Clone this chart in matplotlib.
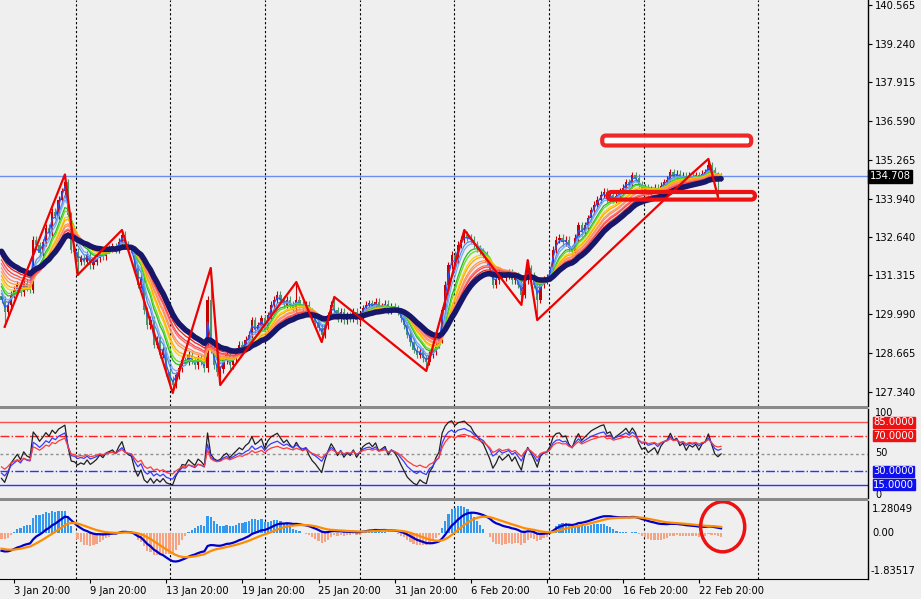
import numpy as np
import matplotlib
matplotlib.use("Agg")  # headless backend
import matplotlib.pyplot as plt
from matplotlib.patches import FancyBboxPatch, Ellipse, Rectangle

# USDJPY H4 closes (bar 0 = 3 Jan 04:00)
closes = [
    130.48, 130.07, 130.31, 130.65, 130.82, 130.99, 130.75, 131.06, 130.89, 130.82,
    132.53, 132.35, 132.10, 132.45, 132.95, 132.80, 133.49, 133.35, 133.90, 134.20,
    134.51, 133.38, 132.19, 132.12, 131.78, 131.91, 131.78, 132.02, 131.67, 131.78,
    131.91, 132.12, 131.98, 132.19, 132.25, 132.32, 132.19, 132.46, 132.70, 132.36,
    132.25, 132.19, 131.57, 130.99, 131.20, 130.13, 129.62, 129.80, 128.94, 129.11,
    128.60, 128.75, 128.01, 127.74, 127.57, 127.91, 128.15, 128.42, 128.36, 128.60,
    128.42, 128.25, 128.49, 128.36, 128.15, 130.48, 128.77, 128.25, 128.01, 128.10,
    128.42, 128.60, 128.25, 128.49, 128.70, 128.94, 128.83, 129.11, 129.28, 129.79,
    129.45, 129.62, 129.86, 129.45, 129.96, 130.31, 130.48, 130.65, 130.48, 130.31,
    130.48, 130.31, 130.20, 130.48, 130.31, 130.20, 130.31, 130.07, 129.86, 129.72,
    129.52, 129.28, 129.62, 129.96, 130.31, 130.13, 129.86, 130.07, 129.79, 129.96,
    129.86, 130.07, 129.79, 129.96, 130.20, 130.31, 130.37, 130.27, 130.41, 130.20,
    130.27, 130.34, 130.13, 130.27, 130.20, 130.07, 129.86, 129.62, 129.28, 129.04,
    128.77, 128.60, 128.70, 128.49, 128.36, 128.60, 128.70, 128.94, 129.11, 130.13,
    130.99, 131.67, 132.02, 131.84, 132.36, 132.53, 132.70, 132.60, 132.53, 132.36,
    132.25, 132.12, 132.02, 131.78, 131.50, 130.99, 131.16, 131.43, 131.23, 131.33,
    131.43, 131.16, 131.30, 130.99, 130.65, 131.16, 131.57, 131.33, 130.99, 130.48,
    130.99, 131.16, 131.23, 131.50, 132.19, 132.53, 132.60, 132.46, 132.53, 132.25,
    132.12, 132.60, 133.04, 132.80, 133.04, 133.28, 133.55, 133.73, 133.90, 134.07,
    134.17, 133.96, 134.07, 133.90, 134.03, 134.17, 134.31, 134.51, 134.41, 134.75,
    134.65, 134.41, 134.24, 134.31, 134.17, 134.24, 134.31, 134.17, 134.38, 134.51,
    134.58, 134.85, 134.72, 134.79, 134.65, 134.72, 134.58, 134.72, 134.68, 134.75,
    134.65, 134.79, 134.85, 135.09, 134.92, 134.72, 134.65, 134.708,
]
first_open = 130.60
last_price = 134.708

# zigzag pivots (bar index, price)
zz_bars = [1, 20, 24, 38, 54, 66, 69, 93, 101, 105, 134, 146, 164, 166, 169, 217, 223, 226]
zz_prices = [129.56, 134.77, 131.33, 132.87, 127.30, 131.57, 127.57, 131.09, 129.04, 130.58,
             128.05, 132.87, 130.31, 131.84, 129.79, 134.72, 135.30, 134.00]

# moving average ribbon: periods and values at the left edge
ribbon_periods = [2, 4, 5, 7, 8, 10, 11, 13, 14, 16, 17, 19]
ribbon_seeds = [130.75, 130.85, 130.96, 131.09, 131.19, 131.33, 131.47, 131.60, 131.74, 131.88, 132.02, 132.15]
ribbon_colors = ['#2255ff', '#4b8bf5', '#7aaaf0', '#22bb22', '#66dd22', '#ffd000',
                 '#ffaa00', '#ff9a3c', '#ff8a70', '#ff6a6a', '#ff4444', '#ee2020']
slow_period, slow_seed = 22, 132.30

# MACD(12, 26, 9): EMA values at the left edge
macd_fast_seed, macd_slow_seed, signal_seed = 131.20, 131.90, -0.60

# RSI lines and their values at the left edge
rsi_periods = [8, 14, 21]
rsi_seeds = [22, 28, 35]
rsi_colors = ['#202020', '#3a3aff', '#ff3a3a']

price_ticks = [140.565, 139.240, 137.915, 136.590, 135.265, 133.940, 132.640, 131.315, 129.990, 128.665, 127.340]
time_ticks = [4, 28, 52, 76, 100, 124, 148, 172, 196, 220]
time_labels = ['3 Jan 20:00', '9 Jan 20:00', '13 Jan 20:00', '19 Jan 20:00', '25 Jan 20:00',
               '31 Jan 20:00', '6 Feb 20:00', '10 Feb 20:00', '16 Feb 20:00', '22 Feb 20:00']
grid_bars = [23.5, 53.3, 83.2, 113.1, 142.8, 172.8, 202.7, 238.5]


def ema(values, n, seed):
    a = 2.0 / (n + 1)
    out, e = [], seed
    for v in values:
        e = e + a * (v - e)
        out.append(e)
    return np.array(out)


def rsi(values, n, seed):
    d = np.diff(values, prepend=values[0])
    m = np.mean(np.abs(d))
    g, l = m * seed / 100, m * (1 - seed / 100)
    out = []
    for x in d:
        g = (g * (n - 1) + max(x, 0)) / n
        l = (l * (n - 1) + max(-x, 0)) / n
        out.append(100 * g / (g + l))
    return np.array(out)


c = np.array(closes)
idx = np.arange(len(c))
o = np.r_[first_open, c[:-1]]
body_lo = np.minimum(o, c)
body_hi = np.maximum(o, c)
highs = body_hi + 0.12
lows = body_lo - 0.12
for b, p in zip(zz_bars, zz_prices):
    highs[b] = max(highs[b], p)
    lows[b] = min(lows[b], p)
cols = np.where(c >= o, '#c80000', '#4d9466')

W, H = 921, 599
BG = '#efefef'
fig = plt.figure(figsize=(W / 100, H / 100), dpi=100, facecolor=BG)
right = 868 / W
ax = fig.add_axes([0, 1 - 406 / H, right, 406 / H], facecolor=BG)
ax_rsi = fig.add_axes([0, 1 - 498 / H, right, 89 / H], facecolor=BG)
ax_macd = fig.add_axes([0, 1 - 579 / H, right, 78 / H], facecolor=BG)

xlim = (-1.5 / 3.17, (868 - 1.5) / 3.17)
for a in (ax, ax_rsi, ax_macd):
    a.set_xlim(*xlim)
    for s in ('top', 'bottom', 'left'):
        a.spines[s].set_visible(False)
    a.spines['right'].set_color('black')
    a.spines['right'].set_linewidth(1)
    for g in grid_bars:
        a.axvline(g, color='black', lw=0.8, ls=(0, (2, 2)), zorder=1)
    a.set_xticks([])
    a.set_yticks([])

# ---- main price panel
ax.set_ylim(126.851, 140.736)
ax.vlines(idx, lows, highs, colors=cols, lw=0.8, zorder=2)
ax.bar(idx, np.maximum(body_hi - body_lo, 0.03), bottom=body_lo, width=0.7, color=cols, zorder=2)
for n, s, col in zip(ribbon_periods, ribbon_seeds, ribbon_colors):
    ax.plot(idx, ema(c, n, s), color=col, lw=0.9, zorder=3)
ax.plot(idx, ema(c, slow_period, slow_seed), color='#16166a', lw=4, zorder=4, solid_capstyle='round')
ax.plot(zz_bars, zz_prices, color='#ee0000', lw=1.6, zorder=5)
ax.axhline(last_price, color='#6b8ff0', lw=1, zorder=1)

ax.add_patch(FancyBboxPatch((189.5, 135.76), 47, 0.34, boxstyle='round,pad=0,rounding_size=1.2',
                            fc='white', ec='#ee1111', lw=3, alpha=0.9, zorder=6, mutation_aspect=0.12))
ax.add_patch(FancyBboxPatch((191.2, 133.91), 46.5, 0.26, boxstyle='round,pad=0,rounding_size=1.2',
                            fc='none', ec='#ee1111', lw=3, zorder=6, mutation_aspect=0.12))

ax.yaxis.tick_right()
ax.set_yticks(price_ticks)
ax.set_yticklabels([f'{t:.3f}' for t in price_ticks])
ax.tick_params(axis='y', direction='out', length=3, pad=2, labelsize=7.2, colors='black')
ax.text(1.002, last_price, f'{last_price:.3f}', transform=ax.get_yaxis_transform(), va='center', ha='left',
        fontsize=7.2, color='white', bbox=dict(boxstyle='square,pad=0.15', fc='black', ec='black'))

# ---- RSI panel
ax_rsi.set_ylim(0, 100)
for n, s, col in zip(rsi_periods, rsi_seeds, rsi_colors):
    ax_rsi.plot(idx, rsi(c, n, s), color=col, lw=0.9, zorder=3)
ax_rsi.axhline(85, color='#ff5050', lw=1, zorder=2)
ax_rsi.axhline(70, color='#ff2020', lw=1, ls='-.', zorder=2)
ax_rsi.axhline(50, color='#909090', lw=1, ls=(0, (2, 2)), zorder=2)
ax_rsi.axhline(30, color='#3030ff', lw=1, ls='-.', zorder=2)
ax_rsi.axhline(15, color='#3030ff', lw=1, zorder=2)
tr = ax_rsi.get_yaxis_transform()
ax_rsi.text(1.008, 101, '100', transform=tr, va='top', ha='left', fontsize=7)
ax_rsi.text(1.008, 50, '50', transform=tr, va='center', ha='left', fontsize=7)
ax_rsi.text(1.008, -2, '0', transform=tr, va='bottom', ha='left', fontsize=7, clip_on=False)
for lvl, fc in [(85, '#ee1111'), (70, '#ee1111'), (30, '#1010ee'), (15, '#1010ee')]:
    ax_rsi.text(1.006, lvl, f'{lvl:.4f}', transform=tr, va='center', ha='left', fontsize=7.2, color='white',
                bbox=dict(boxstyle='square,pad=0.05', fc=fc, ec=fc))

# ---- MACD panel
macd_lo, macd_hi = -1.83517, 1.28049
ax_macd.set_ylim(macd_lo, macd_hi)
macd = ema(c, 12, macd_fast_seed) - ema(c, 26, macd_slow_seed)
signal = ema(macd, 9, signal_seed)
hist = 2.6 * (macd - signal)
ax_macd.bar(idx, hist, width=0.7, color=np.where(hist >= 0, '#3399ee', '#f5a383'), zorder=2)
ax_macd.plot(idx, macd, color='#0000c8', lw=1.6, zorder=3)
ax_macd.plot(idx, signal, color='#ff8c00', lw=1.6, zorder=3)
ax_macd.add_patch(Ellipse((227.5, 0.25), 13.9, 2.0, fc='none', ec='#ee1111', lw=2.5, zorder=5))
tr = ax_macd.get_yaxis_transform()
ax_macd.text(1.005, macd_hi - 0.1, f'{macd_hi:.5f}', transform=tr, va='top', ha='left', fontsize=7.2)
ax_macd.text(1.005, 0, '0.00', transform=tr, va='center', ha='left', fontsize=7.2)
ax_macd.text(1.003, macd_lo + 0.1, f'{macd_lo:.5f}', transform=tr, va='bottom', ha='left', fontsize=7.2)
ax_macd.spines['bottom'].set_visible(True)
ax_macd.spines['bottom'].set_color('black')
ax_macd.set_xticks(time_ticks)
ax_macd.set_xticklabels(time_labels, ha='left')
ax_macd.tick_params(axis='x', direction='out', length=3, pad=2, labelsize=7.2)

# panel separators
for y0 in (406, 498):
    fig.patches.append(Rectangle((0, 1 - (y0 + 3) / H), right, 3 / H, transform=fig.transFigure,
                                 fc='#8a8a8a', ec='none', zorder=10))

fig.savefig('out.png', dpi=100, facecolor=BG)
